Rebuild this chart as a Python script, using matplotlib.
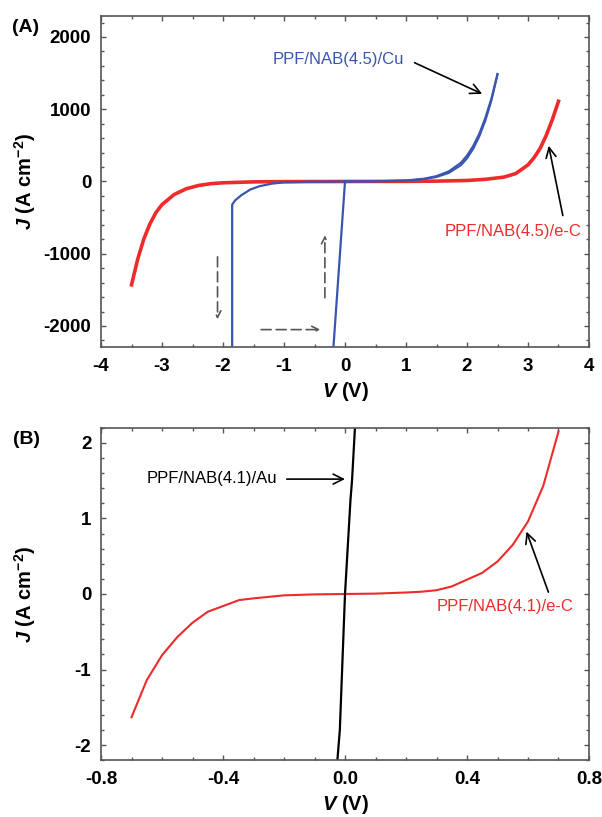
import matplotlib
matplotlib.use("Agg")
import matplotlib.pyplot as plt
from matplotlib.ticker import MultipleLocator, FormatStrFormatter

plt.rcParams['font.family'] = ['Liberation Sans', 'DejaVu Sans']
plt.rcParams['mathtext.fontset'] = 'custom'
plt.rcParams['mathtext.rm'] = 'Liberation Sans:bold'
plt.rcParams['mathtext.it'] = 'Liberation Sans:italic:bold'
plt.rcParams['mathtext.bf'] = 'Liberation Sans:bold'
plt.rcParams['axes.unicode_minus'] = False

BLUE = '#3a55b0'
RED = '#ee2b2b'

# (A) PPF/NAB(4.5)/e-C
red_a_v = [-3.5, -3.4, -3.3, -3.2, -3.1, -3.0, -2.8, -2.6, -2.4, -2.2, -2.0, -1.5, -1.0, 0.0,
           1.0, 1.5, 2.0, 2.3, 2.6, 2.8, 3.0, 3.1, 3.2, 3.3, 3.4, 3.5]
red_a_j = [-1430, -1080, -800, -590, -430, -320, -180, -100, -55, -30, -18, -5, -2, 0,
           2, 5, 14, 30, 60, 110, 230, 330, 460, 640, 860, 1110]

# (A) PPF/NAB(4.5)/Cu, forward sweep (two traces)
cu_fwd_v = [0.0, 0.5, 1.0, 1.3, 1.5, 1.7, 1.9, 2.0, 2.1, 2.2, 2.3, 2.4, 2.5]
cu_fwd_j1 = [0, 3, 14, 40, 75, 140, 260, 360, 490, 660, 880, 1150, 1490]
cu_fwd_j2 = [0, 3, 12, 33, 62, 118, 225, 320, 450, 620, 840, 1120, 1480]
# negative sweep with breakdown
cu_neg_v = [0.0, -0.5, -1.0, -1.2, -1.4, -1.55, -1.7, -1.8, -1.85, -1.85]
cu_neg_j = [0, -3, -12, -30, -65, -110, -190, -260, -320, -2600]
# return branch
cu_ret_v = [-0.215, 0.0]
cu_ret_j = [-2600, 0]

# (B) PPF/NAB(4.1)/e-C
red_b_v = [-0.7, -0.65, -0.6, -0.55, -0.5, -0.45, -0.4, -0.347, -0.3, -0.2, -0.1, 0.0,
           0.1, 0.2, 0.25, 0.3, 0.35, 0.4, 0.45, 0.5, 0.55, 0.6, 0.65, 0.7]
red_b_j = [-1.63, -1.14, -0.81, -0.57, -0.38, -0.235, -0.16, -0.08, -0.058, -0.018, -0.005, 0.0,
           0.005, 0.02, 0.03, 0.05, 0.1, 0.19, 0.28, 0.43, 0.65, 0.96, 1.43, 2.15]

# (B) PPF/NAB(4.1)/Au
au_v = [-0.027, -0.017, 0.0, 0.018, 0.023, 0.034]
au_j = [-2.3, -1.8, 0.0, 1.25, 1.5, 2.3]

fig = plt.figure(figsize=(6.02, 8.17), dpi=100)
axA = fig.add_axes([0.1678, 0.5749, 0.8106, 0.4059])
axB = fig.add_axes([0.1678, 0.0694, 0.8106, 0.4071])

# panel A
axA.plot(red_a_v, red_a_j, color=RED, lw=2.6)
axA.plot(cu_fwd_v, cu_fwd_j1, color=BLUE, lw=1.5)
axA.plot(cu_fwd_v, cu_fwd_j2, color=BLUE, lw=1.5)
axA.plot(cu_neg_v, cu_neg_j, color=BLUE, lw=1.6)
axA.plot(cu_ret_v, cu_ret_j, color=BLUE, lw=1.6)
axA.set_xlim(-4, 4)
axA.set_ylim(-2295, 2295)
axA.xaxis.set_major_locator(MultipleLocator(1))
axA.xaxis.set_minor_locator(MultipleLocator(0.5))
axA.yaxis.set_major_locator(MultipleLocator(1000))
axA.yaxis.set_minor_locator(MultipleLocator(200))

axA.text(-1.18, 1688, 'PPF/NAB(4.5)/Cu', color=BLUE, fontsize=12, va='center', ha='left')
axA.annotate('', xy=(2.29, 1197), xytext=(1.1, 1660),
             arrowprops=dict(arrowstyle='->', color='k', lw=1.2, mutation_scale=18))
axA.text(1.64, -696, 'PPF/NAB(4.5)/e-C', color=RED, fontsize=12, va='center', ha='left')
axA.annotate('', xy=(3.33, 532), xytext=(3.58, -509),
             arrowprops=dict(arrowstyle='->', color='k', lw=1.2, mutation_scale=18))

dash = dict(arrowstyle='->', color='#555555', lw=1.2, linestyle=(0, (6, 3)), mutation_scale=12)
axA.annotate('', xy=(-2.09, -1945), xytext=(-2.09, -1005), arrowprops=dash)
axA.annotate('', xy=(-0.36, -2050), xytext=(-1.42, -2050), arrowprops=dash)
axA.annotate('', xy=(-0.33, -706), xytext=(-0.33, -1647), arrowprops=dash)

# panel B
axB.plot(red_b_v, red_b_j, color=RED, lw=1.5)
axB.plot(au_v, au_j, color='k', lw=1.6)
axB.set_xlim(-0.8, 0.8)
axB.set_ylim(-2.2, 2.2)
axB.xaxis.set_major_locator(MultipleLocator(0.4))
axB.xaxis.set_minor_locator(MultipleLocator(0.1))
axB.xaxis.set_major_formatter(FormatStrFormatter('%.1f'))
axB.yaxis.set_major_locator(MultipleLocator(1))
axB.yaxis.set_minor_locator(MultipleLocator(0.2))

axB.text(-0.652, 1.53, 'PPF/NAB(4.1)/Au', color='k', fontsize=12, va='center', ha='left')
axB.annotate('', xy=(0.009, 1.52), xytext=(-0.2, 1.52),
             arrowprops=dict(arrowstyle='->', color='k', lw=1.2, mutation_scale=18))
axB.text(0.3, -0.17, 'PPF/NAB(4.1)/e-C', color=RED, fontsize=12, va='center', ha='left')
axB.annotate('', xy=(0.592, 0.86), xytext=(0.67, -0.01),
             arrowprops=dict(arrowstyle='->', color='k', lw=1.2, mutation_scale=18))

for ax, ly in ((axA, -0.1), (axB, -0.098)):
    for s in ax.spines.values():
        s.set_color('#555555')
        s.set_linewidth(1.2)
    ax.tick_params(which='both', direction='in', top=True, right=True, color='#555555')
    ax.tick_params(which='major', length=3.5, width=1)
    ax.tick_params(which='minor', length=2.5, width=1)
    ax.tick_params(axis='x', pad=8, labelsize=13.5)
    ax.tick_params(axis='y', pad=7, labelsize=13.5)
    ax.set_xlabel(r'$\mathit{V}$ (V)', fontsize=14.5, fontweight='bold')
    ax.set_ylabel(r'$\mathit{J}$ (A cm$^{-2}$)', fontsize=14.5, fontweight='bold')
    ax.xaxis.set_label_coords(0.5, ly)
    ax.yaxis.set_label_coords(-0.13, 0.5)
    for lab in ax.get_xticklabels() + ax.get_yticklabels():
        lab.set_fontweight('bold')

fig.text(25.5 / 602, 1 - 27.5 / 817, '(A)', fontsize=14, fontweight='bold', ha='center', va='center')
fig.text(26 / 602, 1 - 439.5 / 817, '(B)', fontsize=14, fontweight='bold', ha='center', va='center')

fig.savefig('out.png', dpi=100)
